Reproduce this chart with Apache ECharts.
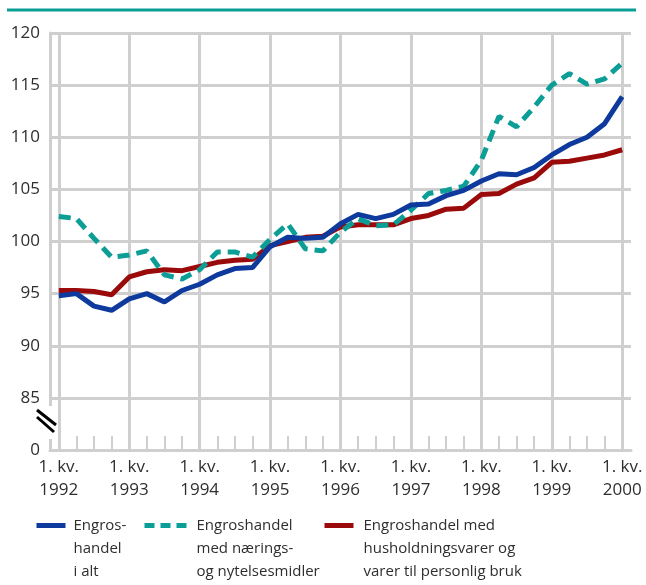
<!DOCTYPE html>
<html><head><meta charset="utf-8">
<script src="https://cdn.jsdelivr.net/npm/echarts@6/dist/echarts.min.js"></script>
<style>html,body{margin:0;padding:0;background:#fff}#c{width:646px;height:585px}</style>
</head><body><div id="c"></div>
<script>
const years = [1992,1993,1994,1995,1996,1997,1998,1999,2000];
const quarters = [1,2,3,4];
const categories = [];
years.forEach(function(y){ quarters.forEach(function(q){ if (y < 2000 || q === 1) categories.push(q + '. kv.\n' + y); }); });

const nameTotal = 'Engros-\nhandel\ni alt';
const nameFood = 'Engroshandel\nmed nærings-\nog nytelsesmidler';
const nameHouse = 'Engroshandel med\nhusholdningsvarer og\nvarer til personlig bruk';

const totalValues = [94.8,95.0,93.8,93.4,94.5,95.0,94.2,95.3,95.9,96.8,97.4,97.5,
  99.5,100.4,100.3,100.4,101.7,102.6,102.2,102.6,103.5,103.6,104.4,104.9,
  105.8,106.5,106.4,107.1,108.3,109.3,110.0,111.3,113.9];
const foodValues = [102.4,102.2,100.3,98.5,98.7,99.1,96.8,96.4,97.3,99.0,99.0,98.5,
  100.2,101.7,99.3,99.1,100.9,102.2,101.5,101.6,103.0,104.6,104.9,105.3,
  107.8,112.0,111.0,112.9,115.0,116.1,115.1,115.6,117.1];
const houseValues = [95.3,95.3,95.2,94.9,96.6,97.1,97.3,97.2,97.6,98.0,98.2,98.3,
  99.6,100.0,100.4,100.5,101.4,101.6,101.6,101.6,102.2,102.5,103.1,103.2,
  104.5,104.6,105.5,106.1,107.6,107.7,108.0,108.3,108.8];

const yMin = 80, yMax = 120, yStep = 5;
const txt = '#2e2e2e';
const gridC = '#cfcfcf';
const font = 'Open Sans';

const chart = echarts.init(document.getElementById('c'), null, {renderer:'canvas'});

function legendCfg(name, left, color, dash, width, gap) {
  return {
    data: [{name: name, lineStyle: {type: dash, width: 5, color: color}}],
    left: left, top: 468, padding: 0,
    itemWidth: width, itemHeight: 5,
    selectedMode: false,
    formatter: function(n){ return '\n\n' + n; },
    textStyle: {fontFamily: font, fontSize: 15, color: txt, lineHeight: 23, padding: [0, 0, 0, gap]}
  };
}

chart.setOption({
  animation: false,
  grid: {left: 50, right: 15, top: 33, bottom: 135},
  legend: [
    legendCfg(nameTotal, 34, '#0d3a9c', 'solid', 29, 3),
    legendCfg(nameFood, 142, '#0a9e97', [10, 6], 42, 5),
    legendCfg(nameHouse, 322, '#9a0a0a', 'solid', 29, 5)
  ],
  xAxis: {
    type: 'category', data: categories, boundaryGap: true,
    axisLine: {lineStyle: {color: gridC, width: 3}},
    axisTick: {show: true, interval: 0, alignWithLabel: true, inside: true, length: 14, lineStyle: {color: gridC, width: 2}},
    splitLine: {show: true, interval: 3, alignWithLabel: true, lineStyle: {color: gridC, width: 3}},
    axisLabel: {interval: 3, margin: 6, color: txt, fontFamily: font, fontSize: 17, lineHeight: 23,
      formatter: function(v){ return v; }}
  },
  yAxis: {
    type: 'value', min: yMin, max: yMax, interval: yStep,
    axisLine: {show: true, lineStyle: {color: gridC, width: 3}},
    axisTick: {show: false},
    splitLine: {show: true, lineStyle: {color: gridC, width: 3}},
    axisLabel: {margin: 10, color: txt, fontFamily: font, fontSize: 17,
      formatter: function(v){ return v === yMin ? '0' : String(v); }}
  },
  series: [
    {name: nameTotal, type: 'line', data: totalValues, symbol: 'none', z: 4,
      lineStyle: {color: '#0d3a9c', width: 5}, itemStyle: {color: '#0d3a9c'}},
    {name: nameFood, type: 'line', data: foodValues, symbol: 'none', z: 3,
      lineStyle: {color: '#0a9e97', width: 5, type: [12, 7]}, itemStyle: {color: '#0a9e97'}},
    {name: nameHouse, type: 'line', data: houseValues, symbol: 'none', z: 2,
      lineStyle: {color: '#9a0a0a', width: 5}, itemStyle: {color: '#9a0a0a'}}
  ],
  graphic: [
    {type: 'line', shape: {x1: 7, y1: 10, x2: 636, y2: 10}, style: {stroke: '#0a9e97', lineWidth: 3}},
    {type: 'rect', shape: {x: 46, y: 406, width: 8, height: 33}, style: {fill: '#ffffff'}, z: 100},
    {type: 'line', shape: {x1: 37, y1: 410, x2: 56, y2: 425}, style: {stroke: '#000', lineWidth: 3}, z: 101},
    {type: 'line', shape: {x1: 37, y1: 417, x2: 54, y2: 432}, style: {stroke: '#000', lineWidth: 3}, z: 101}
  ]
});
</script></body></html>
